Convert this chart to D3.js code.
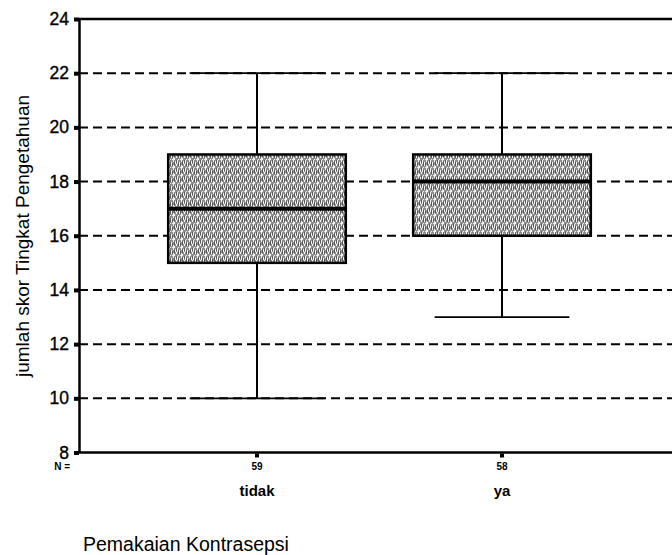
<!DOCTYPE html>
<html>
<head>
<meta charset="utf-8">
<script src="https://cdn.jsdelivr.net/npm/d3@7"></script>
<style>
  html, body { margin: 0; padding: 0; background: #fff; }
  svg { display: block; font-family: "Liberation Sans", Arial, sans-serif; }
</style>
</head>
<body>
<svg id="chart" width="672" height="555"></svg>
<script>
// Box plot summaries per group
const categories = ["tidak", "ya"];
const counts = [59, 58];
const whiskerLow = [10, 13];
const q1 = [15, 16];
const median = [17, 18];
const q3 = [19, 19];
const whiskerHigh = [22, 22];
const yTicks = [8, 10, 12, 14, 16, 18, 20, 22, 24];
const gridValues = [10, 12, 14, 16, 18, 20, 22];

(function () {
const svg = d3.select("#chart");
const plotLeft = 79, plotRight = 672, plotTop = 19, plotBottom = 452.5;

const y = d3.scaleLinear().domain([8, 24]).range([plotBottom, plotTop]);
const x = d3.scalePoint().domain(categories).range([134.5, 624.5]).padding(0.5);
const step = x.step();
const boxW = step * 0.725;
const capW = step * 0.55;

// Streaky grey fill for the boxes
const defs = svg.append("defs");
const pat = defs.append("pattern")
  .attr("id", "stipple").attr("patternUnits", "userSpaceOnUse")
  .attr("width", 8).attr("height", 8);
pat.append("rect").attr("width", 8).attr("height", 8).attr("fill", "#8e8e8e");
const lights = [[0,0,4],[2,2,4],[4,0,2],[4,5,3],[6,1,3],[1,7,1],[3,7,1],[7,4,2],[5,6,2]];
pat.selectAll("rect.s").data(lights).join("rect").attr("class", "s")
  .attr("x", d => d[0]).attr("y", d => d[1]).attr("width", 1).attr("height", d => d[2])
  .attr("fill", "#f2f2f2");
const darks = [[1,2,4],[5,1,4],[7,0,3],[3,3,3]];
pat.selectAll("rect.d").data(darks).join("rect").attr("class", "d")
  .attr("x", d => d[0]).attr("y", d => d[1]).attr("width", 1).attr("height", d => d[2])
  .attr("fill", "#5a5a5a");

// Dashed reference lines
svg.append("g").selectAll("line").data(gridValues).join("line")
  .attr("x1", plotLeft).attr("x2", plotRight)
  .attr("y1", d => y(d)).attr("y2", d => y(d))
  .attr("stroke", "#000").attr("stroke-width", 2)
  .attr("stroke-dasharray", "9,5");

// Frame: top and bottom
svg.append("line").attr("x1", plotLeft).attr("x2", plotRight).attr("y1", y(24)).attr("y2", y(24))
  .attr("stroke", "#000").attr("stroke-width", 2.5);
svg.append("line").attr("x1", plotLeft).attr("x2", plotRight).attr("y1", y(8)).attr("y2", y(8))
  .attr("stroke", "#000").attr("stroke-width", 2.5);

// Y axis
const yAxis = svg.append("g").attr("transform", `translate(${plotLeft},0)`)
  .call(d3.axisLeft(y).tickValues(yTicks).tickSize(0).tickPadding(10));
yAxis.select(".domain").attr("stroke", "#000").attr("stroke-width", 2.5);
yAxis.selectAll("text").attr("font-size", 17.5).attr("fill", "#000")
  .attr("stroke", "#000").attr("stroke-width", 0.35)
  .attr("font-family", "'Liberation Sans', Arial, sans-serif");
yAxis.selectAll(".tick").append("rect")
  .attr("x", -5).attr("y", -2).attr("width", 5).attr("height", 4).attr("fill", "#000");

// Boxes
const groups = svg.append("g").selectAll("g").data(categories).join("g")
  .attr("transform", d => `translate(${x(d)},0)`);

groups.append("line")
  .attr("x1", 0).attr("x2", 0)
  .attr("y1", (d, i) => y(whiskerHigh[i])).attr("y2", (d, i) => y(whiskerLow[i]))
  .attr("stroke", "#000").attr("stroke-width", 2);
groups.append("line")
  .attr("x1", -capW / 2).attr("x2", capW / 2)
  .attr("y1", (d, i) => y(whiskerHigh[i])).attr("y2", (d, i) => y(whiskerHigh[i]))
  .attr("stroke", "#000").attr("stroke-width", 1.8);
groups.append("line")
  .attr("x1", -capW / 2).attr("x2", capW / 2)
  .attr("y1", (d, i) => y(whiskerLow[i])).attr("y2", (d, i) => y(whiskerLow[i]))
  .attr("stroke", "#000").attr("stroke-width", 1.8);
groups.append("rect")
  .attr("x", -boxW / 2).attr("width", boxW)
  .attr("y", (d, i) => y(q3[i])).attr("height", (d, i) => y(q1[i]) - y(q3[i]))
  .attr("fill", "url(#stipple)").attr("stroke", "#000").attr("stroke-width", 2.5);
groups.append("line")
  .attr("x1", -boxW / 2).attr("x2", boxW / 2)
  .attr("y1", (d, i) => y(median[i])).attr("y2", (d, i) => y(median[i]))
  .attr("stroke", "#000").attr("stroke-width", 4);

// X ticks, N counts and group labels
groups.append("rect").attr("x", -2).attr("y", plotBottom + 1).attr("width", 4).attr("height", 4).attr("fill", "#000");
groups.append("text").attr("y", 470).attr("text-anchor", "middle")
  .attr("font-size", 10).attr("font-weight", "bold")
  .text((d, i) => counts[i]);
groups.append("text").attr("y", 496).attr("text-anchor", "middle")
  .attr("font-size", 15).attr("font-weight", "bold")
  .text(d => d);

svg.append("text").attr("x", 70).attr("y", 470).attr("text-anchor", "end")
  .attr("font-size", 10).attr("font-weight", "bold").text("N =");

// Axis titles
svg.append("text").attr("x", 83).attr("y", 551)
  .attr("font-size", 19.5).text("Pemakaian Kontrasepsi");
svg.append("text")
  .attr("transform", `translate(29,236) rotate(-90)`)
  .attr("text-anchor", "middle").attr("font-size", 19)
  .text("jumlah skor Tingkat Pengetahuan");
})();
</script>
</body>
</html>
